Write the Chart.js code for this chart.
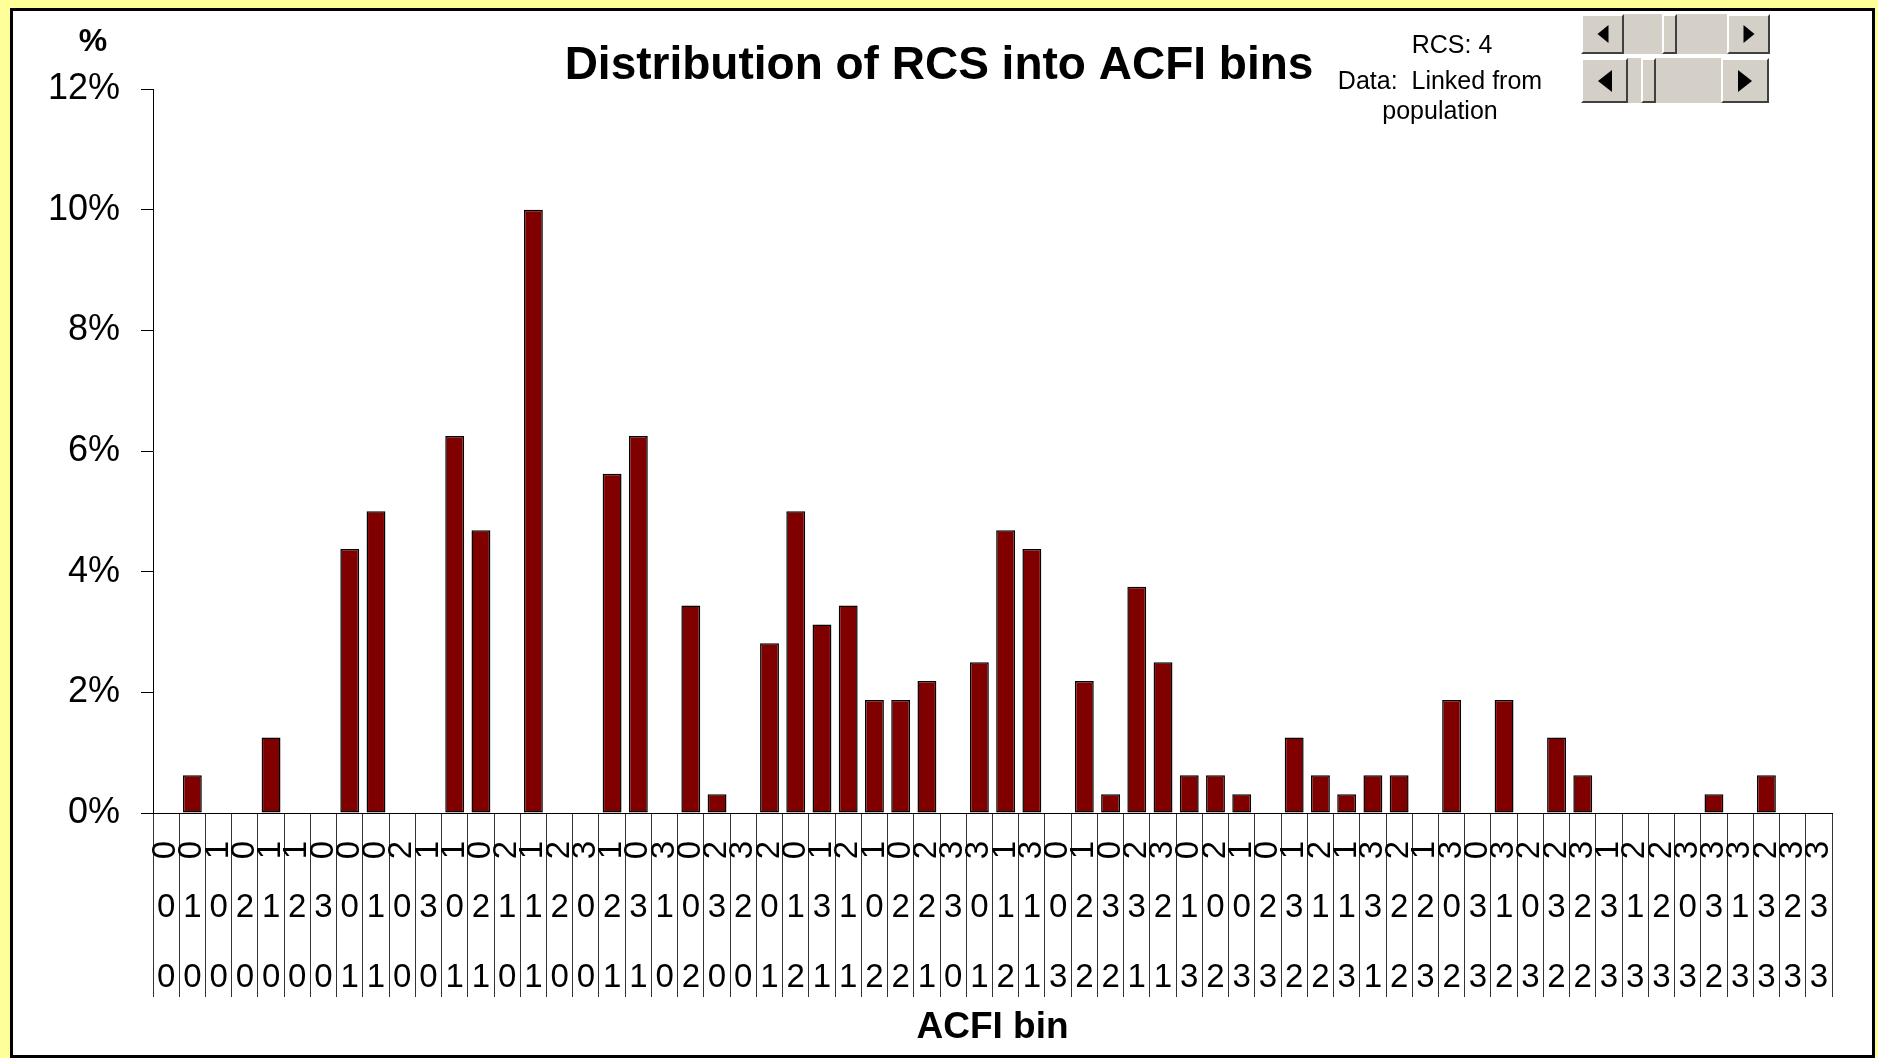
<!DOCTYPE html>
<html><head><meta charset="utf-8">
<script src="https://cdn.jsdelivr.net/npm/chart.js@4/dist/chart.umd.min.js"></script>
<style>
html,body{margin:0;padding:0;background:#FFFF99;width:1878px;height:1058px;overflow:hidden;font-family:'Liberation Sans',Arial,sans-serif;}
#frame{position:absolute;left:10px;top:8px;width:1865px;height:1050px;box-sizing:border-box;border:3px solid #000;background:#fff;}
#c{position:absolute;left:0;top:0;}
.txt{position:absolute;transform:translate(-50%,-50%);white-space:pre;color:#000;line-height:1;}
.sb{position:absolute;background:#D4D0C8;box-sizing:border-box;}
.btn,.thumb{position:absolute;top:0;bottom:0;box-sizing:border-box;background:#D4D0C8;border-top:2px solid #fff;border-left:2px solid #fff;border-right:2px solid #404040;border-bottom:2px solid #404040;}
.tri{position:absolute;top:50%;left:50%;width:0;height:0;transform:translate(-50%,-50%);}
</style></head><body>
<div id="frame"></div>
<canvas id="c" width="1878" height="1058"></canvas>
<div class="txt" style="left:93px;top:40px;font-weight:bold;font-size:32px">%</div>
<div class="txt" style="left:1452px;top:44px;font-size:25px">RCS: 4</div>
<div class="txt" style="left:1440px;top:80px;font-size:25px">Data:  Linked from</div>
<div class="txt" style="left:1440px;top:110px;font-size:25px">population</div>

<div class="sb" style="left:1581px;top:14px;width:189px;height:40px;">
  <div class="btn" style="left:0;width:43px;"><div class="tri" style="border-top:9px solid transparent;border-bottom:9px solid transparent;border-right:11px solid #000;"></div></div>
  <div class="thumb" style="left:81px;width:15px;"></div>
  <div class="btn" style="right:0;width:43px;"><div class="tri" style="border-top:9px solid transparent;border-bottom:9px solid transparent;border-left:11px solid #000;"></div></div>
</div>
<div class="sb" style="left:1581px;top:58px;width:188px;height:45px;">
  <div class="btn" style="left:0;width:47px;"><div class="tri" style="border-top:11px solid transparent;border-bottom:11px solid transparent;border-right:14px solid #000;"></div></div>
  <div class="thumb" style="left:60px;width:15px;"></div>
  <div class="btn" style="right:0;width:48px;"><div class="tri" style="border-top:11px solid transparent;border-bottom:11px solid transparent;border-left:14px solid #000;"></div></div>
</div>

<script>
// ACFI bin digits (three label rows per category)
const row1 = [0,0,1,0,1,1,0,0,0,2,1,1,0,2,1,2,3,1,0,3,0,2,3,2,0,1,2,1,0,2,3,3,1,3,0,1,0,2,3,0,2,1,0,1,2,1,3,2,1,3,0,3,2,2,3,1,2,2,3,3,3,2,3,3];
const row2 = [0,1,0,2,1,2,3,0,1,0,3,0,2,1,1,2,0,2,3,1,0,3,2,0,1,3,1,0,2,2,3,0,1,1,0,2,3,3,2,1,0,0,2,3,1,1,3,2,2,0,3,1,0,3,2,3,1,2,0,3,1,3,2,3];
const row3 = [0,0,0,0,0,0,0,1,1,0,0,1,1,0,1,0,0,1,1,0,2,0,0,1,2,1,1,2,2,1,0,1,2,1,3,2,2,1,1,3,2,3,3,2,2,3,1,2,3,2,3,2,3,2,2,3,3,3,3,2,3,3,3,3];
const categories = row1.map((d, i) => '' + d + row2[i] + row3[i]);
// Percent of RCS in each ACFI bin
const values = [0,0.625,0,0,1.25,0,0,4.375,5,0,0,6.25,4.6875,0,10,0,0,5.625,6.25,0,3.4375,0.3125,0,2.8125,5,3.125,3.4375,1.875,1.875,2.1875,0,2.5,4.6875,4.375,0,2.1875,0.3125,3.75,2.5,0.625,0.625,0.3125,0,1.25,0.625,0.3125,0.625,0.625,0,1.875,0,1.875,0,1.25,0.625,0,0,0,0,0.3125,0,0.625,0,0];
const yMin = 0, yMax = 12, yStep = 2;

const FONT = "'Liberation Sans', Arial, sans-serif";

const labelRows = {
  id: 'labelRows',
  afterDraw(chart) {
    const xs = chart.scales.x, ctx = chart.ctx, top = xs.top;
    ctx.save();
    ctx.fillStyle = '#000';
    ctx.font = '33px ' + FONT;
    ctx.textAlign = 'center';
    ctx.textBaseline = 'middle';
    categories.forEach((c, i) => {
      const x = xs.getPixelForValue(i);
      ctx.save();
      ctx.translate(x, top + 37);
      ctx.rotate(-Math.PI / 2);
      ctx.fillText(String(row1[i]), 0, 0);
      ctx.restore();
      ctx.fillText(String(row2[i]), x, top + 95);
      ctx.fillText(String(row3[i]), x, top + 165);
    });
    ctx.restore();
  }
};

new Chart(document.getElementById('c'), {
  type: 'bar',
  data: {
    labels: categories,
    datasets: [{
      data: values,
      backgroundColor: '#800000',
      borderColor: '#000',
      borderWidth: c => (c.raw > 0 ? 1.5 : 0),
      borderSkipped: false,
      barPercentage: 0.72,
      categoryPercentage: 1.0
    }]
  },
  options: {
    responsive: false,
    animation: false,
    devicePixelRatio: 1,
    layout: { padding: { left: 46, right: 46, top: 0, bottom: 0 } },
    plugins: {
      legend: { display: false },
      tooltip: { enabled: false },
      title: {
        display: true,
        text: 'Distribution of RCS into ACFI bins',
        color: '#000',
        font: { family: FONT, size: 46, weight: 'bold', lineHeight: 0.94 },
        padding: { top: 45, bottom: 0.76 }
      }
    },
    scales: {
      x: {
        offset: true,
        grid: { offset: true, drawOnChartArea: false, drawTicks: true, tickLength: 184, color: '#333', lineWidth: 1 },
        border: { display: true, color: '#000', width: 1 },
        ticks: { display: false },
        title: {
          display: true, text: 'ACFI bin', color: '#000',
          font: { family: FONT, size: 37, weight: 'bold', lineHeight: 1.2 },
          padding: { top: 0, bottom: 8 }
        },
        afterFit(s) { s.height = 245; }
      },
      y: {
        min: yMin, max: yMax,
        ticks: { stepSize: yStep, callback: v => v + '%', color: '#000', font: { family: FONT, size: 36 }, padding: 21 },
        grid: { drawOnChartArea: false, drawTicks: true, tickLength: 12, color: '#000' },
        border: { display: true, color: '#000', width: 1 },
        afterFit(s) { s.width = 107; }
      }
    }
  },
  plugins: [labelRows]
});
</script>
</body></html>
